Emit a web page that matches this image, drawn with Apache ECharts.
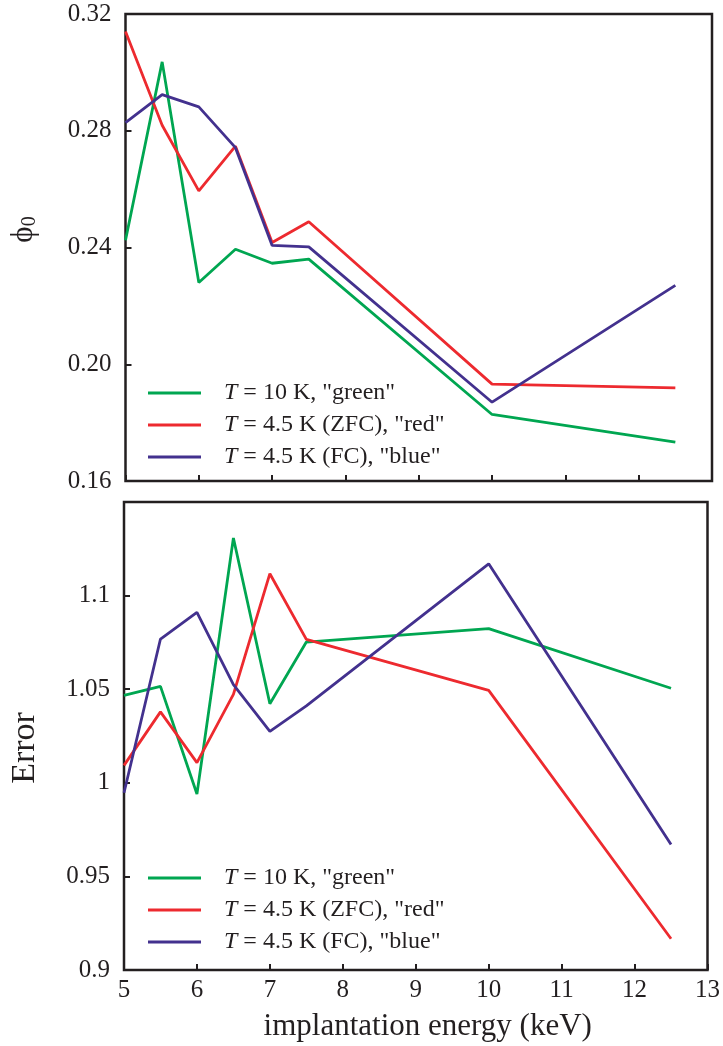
<!DOCTYPE html>
<html>
<head>
<meta charset="utf-8">
<script src="https://cdn.jsdelivr.net/npm/echarts@6/dist/echarts.min.js"></script>
<style>
html,body{margin:0;padding:0;background:#fff;}
#chart{width:723px;height:1046px;}
</style>
</head>
<body>
<div id="chart"></div>
<script>
// Data
const energies = [5, 5.5, 6, 6.5, 7, 7.5, 10, 12.5];
const phiGreen = [0.2425, 0.3036, 0.2280, 0.2394, 0.2346, 0.2360, 0.1828, 0.1733];
const phiRed   = [0.3140, 0.2819, 0.2594, 0.2747, 0.2417, 0.2488, 0.1932, 0.1919];
const phiBlue  = [0.2828, 0.2924, 0.2882, 0.2742, 0.2407, 0.2402, 0.1870, 0.2270];
const errGreen = [1.0467, 1.0515, 0.9940, 1.1308, 1.0422, 1.0752, 1.0824, 1.0505];
const errRed   = [1.0093, 1.0379, 1.0108, 1.0472, 1.1117, 1.0766, 1.0494, 0.9167];
const errBlue  = [0.9947, 1.0768, 1.0910, 1.0525, 1.0275, 1.0411, 1.1170, 0.9671];
const xTicks = [5, 6, 7, 8, 9, 10, 11, 12, 13];
const phiTicks = [0.16, 0.20, 0.24, 0.28, 0.32];
const errTicks = [0.9, 0.95, 1, 1.05, 1.1];
const seriesNames = ['green', 'red', 'blue'];
const legendLabels = {
  green: '{i|T} = 10 K, "green"',
  red: '{i|T} = 4.5 K (ZFC), "red"',
  blue: '{i|T} = 4.5 K (FC), "blue"'
};
const colors = {green: '#00a651', red: '#ed2a2f', blue: '#43318e'};

const FONT = '"Liberation Serif", "DejaVu Serif", serif';
const TXT = '#231f20';

function pairs(ys) { return energies.map((x, i) => [x, ys[i]]); }

const chart = echarts.init(document.getElementById('chart'), null, {renderer: 'canvas'});

function xAxis(idx, showLabels) {
  return {
    type: 'value', gridIndex: idx, min: 5, max: 13, interval: 1,
    axisLine: {show: false},
    axisTick: {show: true, inside: true, length: 6, lineStyle: {color: TXT, width: 2}},
    splitLine: {show: false},
    axisLabel: {
      show: showLabels, margin: 8, color: TXT, fontFamily: FONT, fontSize: 25,
      formatter: v => xTicks.indexOf(v) >= 0 ? String(v) : ''
    },
    name: showLabels ? 'implantation energy (keV)' : '',
    nameLocation: 'middle', nameGap: 41,
    nameTextStyle: {color: TXT, fontFamily: FONT, fontSize: 31, padding: [0, 0, 0, 24]}
  };
}

const legendCommon = {
  orient: 'vertical', left: 143, itemWidth: 53, itemHeight: 3, itemGap: 8,
  icon: 'rect',
  textStyle: {
    color: TXT, fontFamily: FONT, fontSize: 24, lineHeight: 24, padding: [0, 0, 0, 18],
    rich: {i: {fontStyle: 'italic', fontFamily: FONT, fontSize: 24, color: TXT}}
  },
  formatter: n => legendLabels[n],
  data: seriesNames,
  selectedMode: false
};

function lineSeries(name, data, xi, yi) {
  return {
    name: name, type: 'line', xAxisIndex: xi, yAxisIndex: yi,
    data: pairs(data), symbol: 'none', showSymbol: false,
    lineStyle: {color: colors[name], width: 2.8},
    itemStyle: {color: colors[name]},
    animation: false
  };
}

const option = {
  backgroundColor: '#fff',
  animation: false,
  grid: [
    {left: 121, top: 14, width: 591, height: 467, show: true, borderColor: TXT, borderWidth: 2.5, backgroundColor: 'transparent'},
    {left: 121, top: 502, width: 591, height: 468, show: true, borderColor: TXT, borderWidth: 2.5, backgroundColor: 'transparent'}
  ],
  xAxis: [xAxis(0, false), xAxis(1, true)],
  yAxis: [
    {
      type: 'value', gridIndex: 0, min: 0.16, max: 0.32, interval: 0.04,
      axisLine: {show: false},
      axisTick: {show: true, inside: true, length: 6, lineStyle: {color: TXT, width: 2}},
      splitLine: {show: false},
      axisLabel: {
        margin: 14, color: TXT, fontFamily: FONT, fontSize: 25,
        formatter: v => {
          const t = phiTicks.find(p => Math.abs(p - v) < 1e-6);
          return t === undefined ? '' : t.toFixed(2);
        }
      },
      name: '{p|ϕ}{s|0}', nameLocation: 'middle', nameGap: 86,
      nameTextStyle: {
        color: TXT, fontFamily: FONT, padding: [0, 0, 0, 36],
        rich: {
          p: {fontFamily: FONT, fontSize: 31, color: TXT, lineHeight: 32},
          s: {fontFamily: FONT, fontSize: 20, color: TXT, lineHeight: 20, verticalAlign: 'bottom'}
        }
      }
    },
    {
      type: 'value', gridIndex: 1, min: 0.9, max: 1.15, interval: 0.05,
      axisLine: {show: false},
      axisTick: {show: true, inside: true, length: 6, lineStyle: {color: TXT, width: 2}},
      splitLine: {show: false},
      axisLabel: {
        margin: 14, color: TXT, fontFamily: FONT, fontSize: 25,
        formatter: v => {
          const t = errTicks.find(p => Math.abs(p - v) < 1e-6);
          return t === undefined ? '' : String(t);
        }
      },
      name: 'Error', nameLocation: 'middle', nameGap: 82,
      nameTextStyle: {color: TXT, fontFamily: FONT, fontSize: 34, padding: [0, 24, 0, 0]}
    }
  ],
  legend: [
    Object.assign({}, legendCommon, {top: 376}),
    Object.assign({}, legendCommon, {top: 861})
  ],
  series: [
    lineSeries('green', phiGreen, 0, 0),
    lineSeries('red', phiRed, 0, 0),
    lineSeries('blue', phiBlue, 0, 0),
    lineSeries('green', errGreen, 1, 1),
    lineSeries('red', errRed, 1, 1),
    lineSeries('blue', errBlue, 1, 1)
  ]
};
chart.setOption(option);
</script>
</body>
</html>
